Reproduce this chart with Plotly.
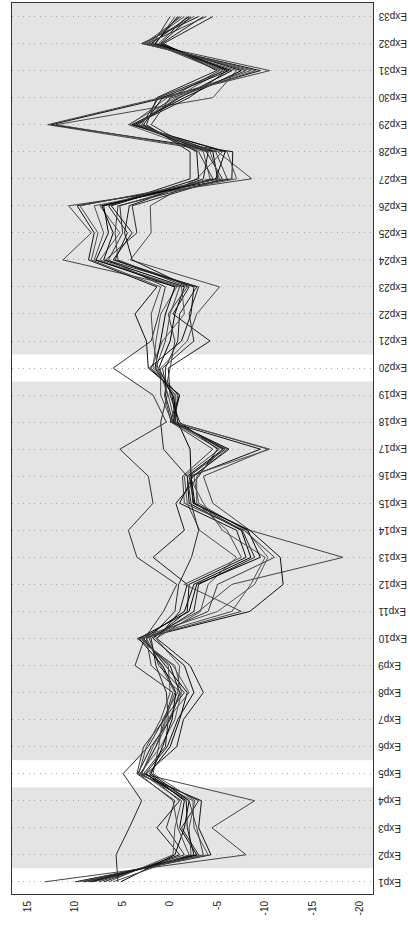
import plotly.graph_objects as go

categories = ["Exp%d" % i for i in range(1, 34)]
highlight = ["Exp1", "Exp5", "Exp20"]
x_ticks = [15, 10, 5, 0, -5, -10, -15, -20]

# values of the 14 profiles at each experiment (one list per experiment)
e1 = [13.2, 10.0, 9.6, 9.2, 8.6, 8.0, 7.5, 7.0, 6.5, 5.5, 5.2, 9.0, 8.3, 6.0]
e2 = [-8.0, -4.3, -4.0, -3.0, -2.8, -2.2, -1.5, -1.0, -0.3, 5.7, -0.5, -3.5, -2.5, -2.0]
e3 = [-4.4, -3.0, -2.5, -1.2, -1.0, -2.0, 0.4, 1.4, -0.5, 4.3, -1.5, -2.8, -1.8, -0.8]
e4 = [-8.9, -3.3, -2.4, -3.0, -1.5, -2.6, -0.5, -1.0, -1.2, 3.0, -2.0, -2.0, -1.7, -0.3]
e5 = [3.0, 3.4, 3.2, 2.8, 2.2, 1.8, 3.5, 2.5, 3.0, 4.95, 2.0, 3.1, 2.6, 3.3]
e6 = [1.5, 2.0, 1.0, 0.5, 0.0, 1.2, 2.8, -0.7, 1.8, 2.3, 0.8, 1.5, 0.3, 2.5]
e7 = [0.5, 0.0, -0.5, 0.2, -1.0, 0.8, 0.6, -1.4, 0.3, 0.7, -0.2, 0.1, -0.8, 1.0]
e8 = [-0.5, -1.0, -1.2, 0.4, -1.8, -0.8, -0.3, -3.5, -2.0, -1.5, -0.6, -1.1, -2.5, 0.0]
e9 = [1.0, 0.0, -0.5, 1.5, 0.5, -1.0, 3.7, -2.1, -0.3, 1.2, 0.8, 2.0, -1.5, 0.2]
e10 = [2.5, 3.0, 3.5, 2.0, 2.8, 1.5, 2.7, 1.4, 3.2, 2.2, 3.3, 2.5, 1.8, 3.0]
e11 = [-3.0, -8.4, -5.0, -2.5, -1.5, -3.2, 0.7, -1.0, -6.5, -0.5, -2.0, -4.0, -1.8, -7.5]
e12 = [-6.5, -11.9, -8.9, -3.0, -2.5, -4.0, -0.7, -1.8, -8.5, -0.9, -2.8, -5.0, -2.0, -1.5]
e13 = [-18.2, -11.6, -10.3, -8.9, -8.5, -7.0, 3.5, 1.8, -10.0, -2.25, -9.5, -11.0, -8.0, -7.5]
e14 = [-8.4, -8.4, -8.0, -7.6, -7.5, -3.1, 4.4, -1.5, -5.5, -3.0, -8.2, -7.8, -7.0, -6.0]
e15 = [-4.5, -2.4, -3.0, -2.5, -2.0, -1.8, 1.8, -0.6, -3.5, -2.2, -2.6, -1.5, -1.0, -2.8]
e16 = [-3.5, -2.2, -2.5, -2.0, -1.8, -1.5, 2.3, -3.0, -2.0, -1.8, -2.2, -1.3, -2.4, -2.8]
e17 = [-10.3, -9.5, -6.0, -5.8, -5.6, -5.2, 5.3, -5.0, -10.5, 0.7, -2.1, -4.5, -6.2, -5.5]
e18 = [-0.5, 0.0, -0.4, -0.3, -0.6, -0.2, 0.4, -1.0, -0.5, 1.0, -0.8, -0.1, -0.3, -0.5]
e19 = [-0.8, -1.0, -0.5, 0.5, -0.2, 1.0, 1.8, 0.0, -0.6, 0.3, -0.3, 0.6, -1.0, 0.2]
e20 = [1.5, 2.3, 1.8, 0.5, 1.2, 1.0, 6.0, 0.2, 2.0, 0.8, 1.6, 0.0, 2.2, 1.3]
e21 = [0.5, 2.5, 1.5, -0.8, 0.0, -1.8, 2.0, -4.2, 0.8, -2.5, 1.0, -0.5, -1.2, 1.8]
e22 = [0.0, 3.7, 1.0, -1.0, -0.5, -2.8, 1.2, -0.3, -1.5, -2.0, 0.5, 0.2, -2.2, 2.0]
e23 = [-1.0, 1.4, -0.7, -2.8, -1.5, -5.2, 0.5, -2.0, -1.2, -3.0, -0.5, -1.8, -2.5, 1.0]
e24 = [11.3, 8.6, 7.4, 5.8, 7.0, 4.2, 6.5, 4.0, 8.0, 6.8, 7.8, 5.5, 6.0, 8.3]
e25 = [8.3, 8.0, 5.3, 4.5, 6.0, 2.0, 5.0, 4.8, 7.0, 3.5, 6.5, 5.8, 4.0, 7.6]
e26 = [10.7, 9.8, 7.4, 6.5, 7.2, 2.1, 5.3, 4.3, 8.0, 4.0, 7.0, 5.5, 6.2, 9.5]
e27 = [-8.6, -6.5, -4.2, -2.1, -5.0, -2.8, -4.5, -3.5, -7.0, -5.5, -4.8, -6.0, -3.0, -5.2]
e28 = [-5.0, -6.6, -3.5, -2.1, -4.5, -5.5, -3.0, -4.0, -6.0, -3.8, -5.8, -4.8, -2.8, -4.2]
e29 = [12.9, 12.5, 4.4, 2.5, 3.5, 12.0, 2.0, 3.8, 4.2, 3.0, 4.0, 3.6, 2.8, 3.3]
e30 = [1.0, 0.5, -0.5, 1.4, -1.0, -4.5, 0.0, -2.0, 0.3, 1.2, -1.5, -0.8, 0.8, -0.2]
e31 = [-10.5, -9.5, -5.5, -4.9, -6.5, -7.0, -5.2, -6.0, -8.5, -5.8, -7.5, -8.0, -6.2, -9.0]
e32 = [2.5, 3.0, 1.5, 0.7, 2.0, 2.2, 1.8, 0.9, 2.8, 1.2, 1.6, 2.4, 1.0, 2.7]
e33 = [-1.5, -3.0, -0.5, -4.5, -2.0, -1.0, 0.0, -3.5, -2.5, -1.8, -0.8, -3.8, -2.2, -1.2]

columns = [e1, e2, e3, e4, e5, e6, e7, e8, e9, e10, e11, e12, e13, e14, e15, e16,
           e17, e18, e19, e20, e21, e22, e23, e24, e25, e26, e27, e28, e29, e30,
           e31, e32, e33]
series = [list(s) for s in zip(*columns)]

line_colors = ["#444444", "#111111", "#555555", "#222222", "#000000", "#4a4a4a", "#333333",
               "#1a1a1a", "#505050", "#2a2a2a", "#000000", "#3c3c3c", "#111111", "#484848"]

fig = go.Figure()
for i, s in enumerate(series):
    fig.add_trace(go.Scatter(x=s, y=categories, mode="lines",
                             line=dict(color=line_colors[i], width=1),
                             showlegend=False, hoverinfo="skip"))

for h in highlight:
    idx = categories.index(h)
    fig.add_shape(type="rect", xref="x domain", yref="y", x0=0, x1=1,
                  y0=idx - 0.5, y1=idx + 0.5, fillcolor="white",
                  line=dict(width=0), layer="below")

font = dict(family="Liberation Sans, Arial, sans-serif", size=10, color="#222222")

# category labels, drawn upside down beside the right edge of the plot
for c in categories:
    fig.add_annotation(text=c, xref="x domain", yref="y", x=1, y=c,
                       xanchor="left", yanchor="middle", xshift=3,
                       textangle=180, showarrow=False, font=font)

fig.update_layout(
    width=408, height=926,
    margin=dict(l=12, r=35, t=3, b=32),
    paper_bgcolor="white", plot_bgcolor="#E4E4E4",
    font=font,
    xaxis=dict(range=[16.66, -21.37], tickmode="array", tickvals=x_ticks,
               ticktext=[str(v) for v in x_ticks], tickangle=-90,
               showgrid=False, zeroline=False, ticks="", ticklabelstandoff=2,
               showline=True, mirror=True, linecolor="#333333", linewidth=1,
               tickfont=font),
    yaxis=dict(type="category", categoryorder="array", categoryarray=categories,
               range=[-0.45, 32.5], side="right", showticklabels=False,
               showgrid=True, gridcolor="#A8A8A8", griddash="1px,4.5px", gridwidth=1,
               zeroline=False, ticks="",
               showline=True, mirror=True, linecolor="#333333", linewidth=1),
)

fig.write_html("out.html", config={"displayModeBar": False},
               post_script="document.body.style.margin='0px';document.body.style.overflow='hidden';")
